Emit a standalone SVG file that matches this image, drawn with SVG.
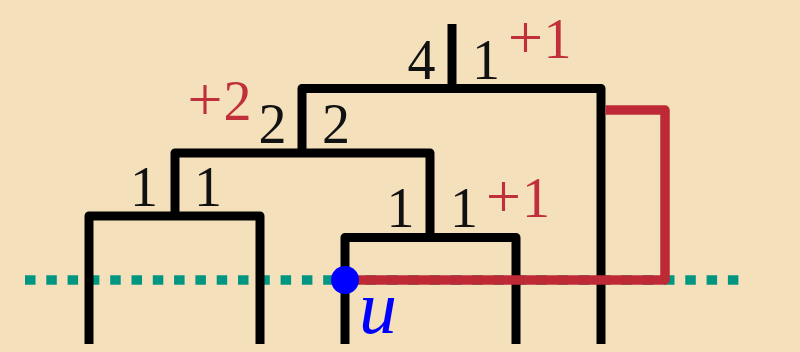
<svg xmlns="http://www.w3.org/2000/svg" width="800" height="352" viewBox="0 0 800 352">
  <style>
    .tree { fill: none; stroke: #000; stroke-width: 9; stroke-linejoin: round; stroke-linecap: butt; }
    .red { fill: none; stroke: #BD2A36; stroke-width: 9.5; stroke-linejoin: round; stroke-linecap: butt; }
    .teal { fill: none; stroke: #009681; stroke-width: 9.5; stroke-dasharray: 10.5 10.8; }
    .num { font-family: "Liberation Serif", "DejaVu Serif", serif; font-size: 56px; fill: #111; text-anchor: middle; }
    .rnum { font-family: "Liberation Serif", "DejaVu Serif", serif; font-size: 56px; fill: #C0303A; text-anchor: middle; }
    .plus { font-size: 62px; }
    .lbl { font-family: "Liberation Serif", "DejaVu Serif", serif; font-style: italic; font-size: 76px; fill: #0000FF; text-anchor: middle; }
  </style>
  <rect x="0" y="0" width="800" height="352" fill="#F4E1BC"/>
  <g id="sweep-line">
    <path class="teal" d="M25 280 H740"/>
  </g>
  <g id="connectors">
    <path class="tree" d="M452 24 V88.5"/>
    <path class="tree" d="M302 153 V88.5 H601 V344"/>
    <path class="tree" d="M175 216 V153 H430 V237.5"/>
    <path class="tree" d="M89 344 V216 H260 V344"/>
    <path class="tree" d="M345 344 V237.5 H516 V344"/>
  </g>
  <g id="red-path">
    <path class="red" d="M605.5 110 H665 V280 H345"/>
  </g>
  <g id="node-u">
    <circle cx="345" cy="280" r="14" fill="#0000FF"/>
    <text class="lbl" x="378" y="333">u</text>
  </g>
  <g id="labels">
    <text class="num" x="421.5" y="79">4</text>
    <text class="num" x="486" y="79">1</text>
    <text class="rnum" y="58"><tspan class="plus" x="525.5">+</tspan><tspan x="557.5">1</tspan></text>
    <text class="rnum" y="120"><tspan class="plus" x="205">+</tspan><tspan x="237.5">2</tspan></text>
    <text class="num" x="272.5" y="143">2</text>
    <text class="num" x="336" y="143">2</text>
    <text class="num" x="144" y="206">1</text>
    <text class="num" x="208" y="206">1</text>
    <text class="num" x="400.5" y="227">1</text>
    <text class="num" x="464" y="227">1</text>
    <text class="rnum" y="217"><tspan class="plus" x="503.5">+</tspan><tspan x="536">1</tspan></text>
  </g>
</svg>
